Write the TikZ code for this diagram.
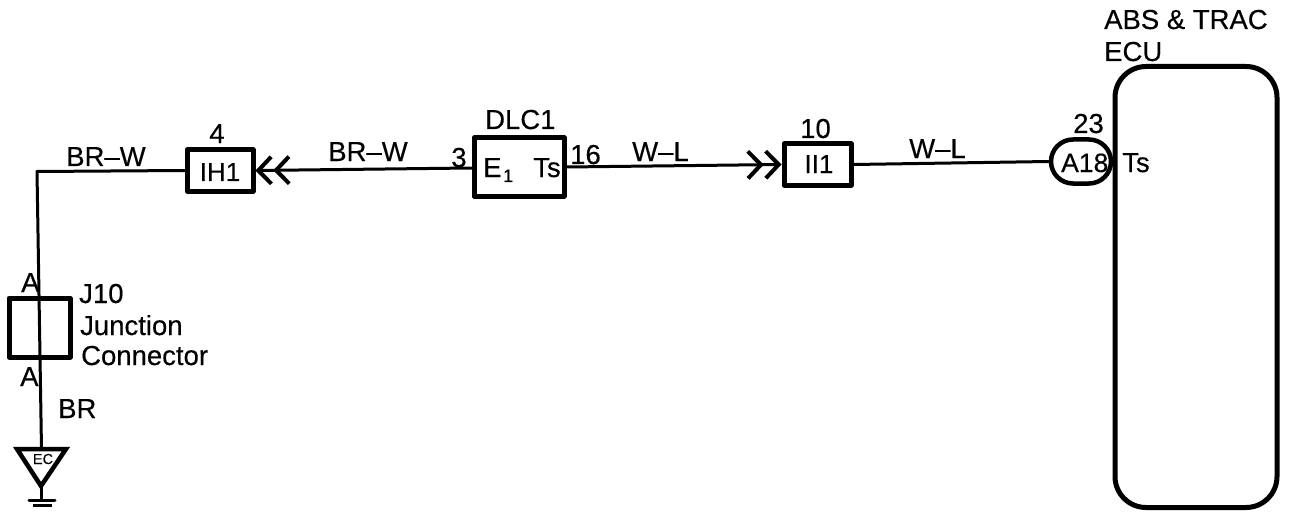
\documentclass[tikz,border=0pt]{standalone}
\usepackage{fontspec}
\setmainfont[FakeBold=0.35]{Liberation Sans}
\usetikzlibrary{arrows.meta}
\tikzset{
  wire/.style={line width=3pt,line cap=round,line join=round},
  box/.style={draw,line width=5pt,inner sep=0pt,line join=round},
  lab/.style={inner sep=0pt,anchor=base west,font=\fontsize{27.5}{27.5}\selectfont},
  labc/.style={inner sep=0pt,anchor=base,font=\fontsize{27.5}{27.5}\selectfont},
  barbs/.style={-{Straight Barb[length=13pt,width=27pt,line width=4pt,sep=0pt]Straight Barb[length=13pt,width=27pt,line width=4pt]}}
}
\begin{document}
\begin{tikzpicture}[x=1pt,y=-1pt]
\useasboundingbox (0,0) rectangle (1312,524);
% connector boxes
\node[box,minimum width=66pt,minimum height=41pt] (ih) at (220,170.5) {};
\node[box,minimum width=90pt,minimum height=58pt] (dlc) at (519,167) {};
\node[box,minimum width=67pt,minimum height=41pt] (ii) at (817.5,164.5) {};
\node[box,minimum width=61pt,minimum height=59pt] (jb) at (39.5,327.5) {};
\node[draw,line width=5pt,rounded corners=31pt,minimum width=162pt,minimum height=441pt,inner sep=0pt] (ecu) at (1196,287) {};
\node[draw,line width=4.5pt,rounded corners=22pt,minimum width=60pt,minimum height=44pt,inner sep=0pt] (a18) at (1081,161.5) {};
% ground symbol
\coordinate (corner) at (37,171.5);
\coordinate (ectl) at (17,449);
\coordinate (ectr) at (66,449);
\coordinate (ectop) at (41.5,449);
\coordinate (ecapex) at (41,486);
\coordinate (gnd) at (41,500);
\coordinate (g1l) at (29,500);
\coordinate (g1r) at (55,500);
\coordinate (g2l) at (33,505.5);
\coordinate (g2r) at (52,505.5);
\draw[line width=4.5pt,line join=miter] (ectl) -- (ectr) -- (ecapex) -- cycle;
% wires
\draw[wire] (ih.west) -- (corner) -- (ectop);
\draw[wire,barbs] ([yshift=-1pt]dlc.west) -- (ih.east);
\draw[wire,barbs] (dlc.east) -- (ii.west);
\draw[wire] (ii.east) -- (a18.west);
\draw[wire] (ecapex) -- (gnd);
\draw[wire] (g1l) -- (g1r);
\draw[line width=2.5pt] (g2l) -- (g2r);
% labels
\node[labc] (t1) at (106,166) {BR–W};
\node[labc] (t2) at (217,143) {4};
\node[labc,font=\fontsize{26}{26}\selectfont] (t3) at (220,181) {IH1};
\node[labc] (t4) at (368,161) {BR–W};
\node[labc] (t5) at (459,167) {3};
\node[lab] (t6) at (483,177) {E};
\node[lab,font=\fontsize{18}{18}\selectfont] (t6b) at (503,182) {1};
\node[lab] (t7) at (533,177) {Ts};
\node[lab] (t8) at (485,129) {DLC1};
\node[lab] (t9) at (570,164) {16};
\node[lab] (t10) at (632,161) {W–L};
\node[lab] (t11) at (800,138) {10};
\node[labc,font=\fontsize{26}{26}\selectfont] (t12) at (819,173) {II1};
\node[lab] (t13) at (909,158) {W–L};
\node[lab] (t14) at (1073,133) {23};
\node[lab,font=\fontsize{26.5}{26.5}\selectfont] (t15) at (1061,172) {A18};
\node[lab] (t16) at (1122,172) {Ts};
\node[lab] (t17) at (1104,29) {ABS \& TRAC};
\node[lab] (t18) at (1104,61) {ECU};
\node[lab] (t19) at (21,292) {A};
\node[lab] (t20) at (20,386) {A};
\node[lab] (t21) at (79,303) {J10};
\node[lab] (t22) at (80,335) {Junction};
\node[lab] (t23) at (81,365) {Connector};
\node[lab] (t24) at (58,418) {BR};
\node[labc,font=\fontsize{14.5}{14.5}\selectfont] (t25) at (43,464) {EC};
\end{tikzpicture}
\end{document}
